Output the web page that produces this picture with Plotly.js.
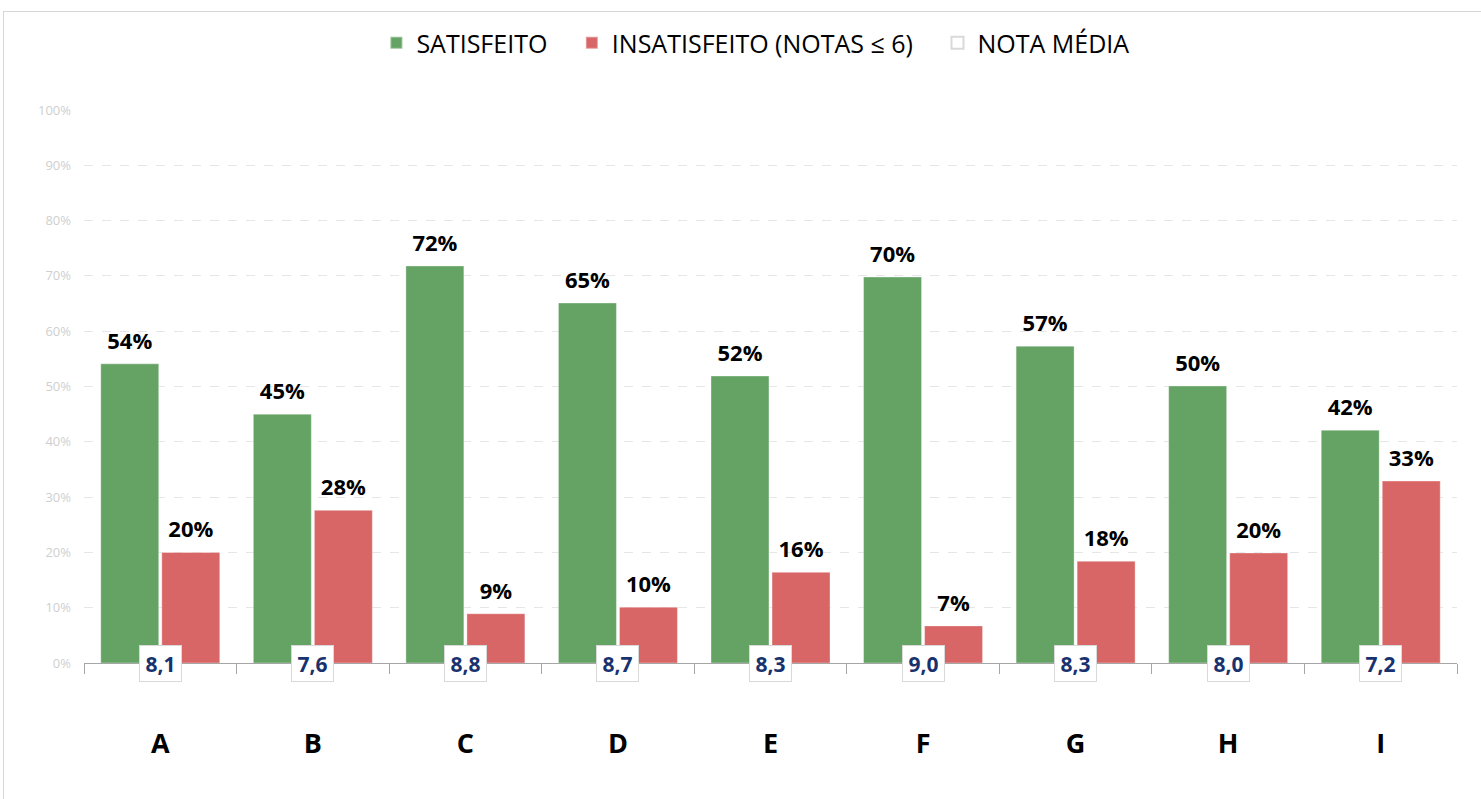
<!DOCTYPE html>
<html>
<head>
<meta charset="utf-8">
<script src="https://cdn.plot.ly/plotly-3.0.1.min.js"></script>
<style>
  html, body { margin: 0; padding: 0; background: #fff; }
  #moldura {
    position: absolute; left: 3px; top: 11px; width: 1490px; height: 800px;
    border-left: 1px solid #d6d6d6; border-top: 1px solid #d6d6d6;
  }
  #grafico { position: absolute; left: 0; top: 0; width: 1481px; height: 799px; }
</style>
</head>
<body>
<div id="moldura"></div>
<div id="grafico"></div>
<script>
// Satisfação por unidade: % satisfeitos, % insatisfeitos e nota média
const categorias = ["A", "B", "C", "D", "E", "F", "G", "H", "I"];
const satisfeito = [54.1, 45.0, 71.8, 65.1, 51.9, 69.8, 57.3, 50.1, 42.1];
const insatisfeito = [20.0, 27.6, 8.9, 10.1, 16.4, 6.7, 18.4, 19.9, 32.9];
const notaMedia = [8.1, 7.6, 8.8, 8.7, 8.3, 9.0, 8.3, 8.0, 7.2];

const verde = "#64a364";
const vermelho = "#d96666";
const fonte = "Open Sans, sans-serif";
const espaco = "\u00a0\u00a0\u00a0"; // afasta um pouco os itens da legenda

function rotulos(valores, grupo) {
  return {
    type: "scatter",
    mode: "markers+text",
    x: categorias,
    y: valores,
    offsetgroup: grupo,
    texttemplate: "%{y:.0f}%",
    textposition: "top center",
    textfont: { family: fonte, size: 22, color: "#000", weight: "bold" },
    marker: { size: 14, opacity: 0 },
    cliponaxis: false,
    showlegend: false,
    hoverinfo: "skip"
  };
}

const data = [
  {
    type: "bar",
    name: "SATISFEITO" + espaco,
    x: categorias,
    y: satisfeito,
    offsetgroup: "1",
    marker: { color: verde, line: { color: "rgba(255,255,255,0.35)", width: 1 } },
    hoverinfo: "skip"
  },
  {
    type: "bar",
    name: "INSATISFEITO (NOTAS ≤ 6)" + espaco,
    x: categorias,
    y: insatisfeito,
    offsetgroup: "2",
    marker: { color: vermelho, line: { color: "rgba(255,255,255,0.35)", width: 1 } },
    hoverinfo: "skip"
  },
  rotulos(satisfeito, "1"),
  rotulos(insatisfeito, "2"),
  // só para a legenda; as caixas são anotações
  {
    type: "scatter",
    mode: "markers",
    name: "NOTA MÉDIA",
    xaxis: "x2",
    x: [null],
    y: [null],
    marker: { symbol: "square", size: 12, color: "#fff", line: { color: "#d9d9d9", width: 1 } },
    hoverinfo: "skip"
  }
];

// caixas com a nota média sobre o eixo x
const annotations = categorias.map((c, i) => ({
  x: c,
  y: 0,
  xref: "x",
  yref: "y",
  text: "<b>" + notaMedia[i].toFixed(1).replace(".", ",") + "</b>",
  showarrow: false,
  xanchor: "center",
  yanchor: "middle",
  width: 35,
  height: 29,
  bgcolor: "#fff",
  bordercolor: "#d9d9d9",
  borderwidth: 1,
  borderpad: 3,
  font: { family: fonte, size: 21, color: "#17326e" }
}));

const layout = {
  width: 1481,
  height: 799,
  paper_bgcolor: "rgba(0,0,0,0)",
  plot_bgcolor: "rgba(0,0,0,0)",
  font: { family: fonte, color: "#000" },
  margin: { l: 84, r: 24, t: 110, b: 136 },
  barmode: "group",
  bargap: 0.2,
  bargroupgap: 0.05,
  scattermode: "group",
  scattergap: 0.2,
  showlegend: true,
  legend: {
    orientation: "h",
    x: 0.489,
    xanchor: "center",
    y: 1.121,
    yanchor: "middle",
    itemsizing: "constant",
    font: { family: fonte, size: 25, color: "#000" }
  },
  annotations: annotations,
  xaxis: {
    type: "category",
    tickson: "boundaries",
    ticks: "outside",
    ticklen: 10,
    tickcolor: "#a6a6a6",
    showline: true,
    linecolor: "#a6a6a6",
    linewidth: 1,
    showgrid: false,
    ticklabelstandoff: 57,
    tickfont: { family: fonte, size: 27, color: "#000", weight: "bold" },
    fixedrange: true
  },
  xaxis2: {
    type: "category",
    overlaying: "x",
    matches: "x",
    visible: false
  },
  yaxis: {
    range: [0, 100],
    dtick: 10,
    ticksuffix: "%",
    showline: false,
    zeroline: false,
    gridcolor: "#e6e6e6",
    griddash: "dash",
    ticklabelstandoff: 12,
    tickfont: { family: fonte, size: 13, color: "#cfcfcf" },
    fixedrange: true
  }
};

Plotly.newPlot("grafico", data, layout, { displayModeBar: false, staticPlot: true });
</script>
</body>
</html>
